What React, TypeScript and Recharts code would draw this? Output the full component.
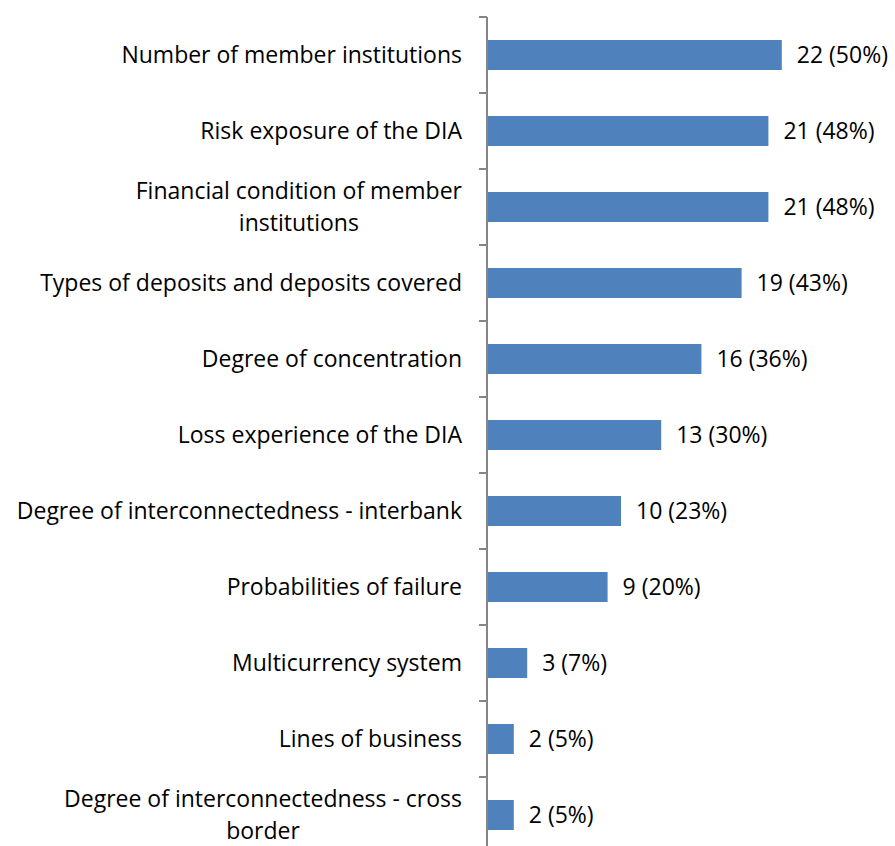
import React from 'react';
import { BarChart, Bar, XAxis, YAxis, LabelList } from 'recharts';

const categories = [
  'Number of member institutions',
  'Risk exposure of the DIA',
  'Financial condition of member|institutions',
  'Types of deposits and deposits covered',
  'Degree of concentration',
  'Loss experience of the DIA',
  'Degree of interconnectedness - interbank',
  'Probabilities of failure',
  'Multicurrency system',
  'Lines of business',
  'Degree of interconnectedness - cross|border',
];
const counts = [22, 21, 21, 19, 16, 13, 10, 9, 3, 2, 2];
const shares = ['50%', '48%', '48%', '43%', '36%', '30%', '23%', '20%', '7%', '5%', '5%'];

const data = categories.map((name, i) => ({ name, value: counts[i], label: `${counts[i]} (${shares[i]})` }));

const W = 895;
const H = 870;
const TOP = 17;
const BOTTOM = 17;
const AXIS_X = 487;
const BAND = (H - TOP - BOTTOM) / categories.length;
const FONT = '"Open Sans", sans-serif';
const FS = 23;

let ctx: CanvasRenderingContext2D | null = null;
function measure(s: string) {
  if (!ctx) ctx = document.createElement('canvas').getContext('2d');
  if (!ctx) return s.length * 11;
  ctx.font = `${FS}px ${FONT}`;
  return ctx.measureText(s).width;
}

function CategoryTick(props: any) {
  const { y, payload } = props;
  const lines = String(payload.value).split('|');
  const right = AXIS_X - 25;
  return (
    <g>
      <line x1={AXIS_X - 8} x2={AXIS_X} y1={y - BAND / 2} y2={y - BAND / 2} stroke="#868686" strokeWidth={2} />
      {lines.length === 1 ? (
        <text x={right} y={y} dy="0.35em" textAnchor="end" fontSize={FS} fill="#000" fontFamily={FONT}>
          {lines[0]}
        </text>
      ) : (
        lines.map((l, i) => {
          const cx = right - measure(lines[0]) / 2;
          return (
            <text key={i} x={cx} y={y + (i === 0 ? -16 : 16)} dy="0.35em" textAnchor="middle" fontSize={FS} fill="#000" fontFamily={FONT}>
              {l}
            </text>
          );
        })
      )}
    </g>
  );
}

export default function App() {
  return (
    <div style={{ position: 'absolute', left: 0, top: 0, background: '#fff' }}>
      <BarChart width={W} height={H} data={data} layout="vertical" margin={{ top: TOP, right: 6, bottom: BOTTOM, left: 0 }} barCategoryGap={0}>
        <XAxis type="number" domain={[0, 30]} hide />
        <YAxis
          type="category"
          dataKey="name"
          width={AXIS_X}
          axisLine={{ stroke: '#868686', strokeWidth: 2 }}
          tickLine={false}
          tick={<CategoryTick />}
          interval={0}
        />
        <Bar dataKey="value" fill="#4F81BD" barSize={30} isAnimationActive={false}>
          <LabelList dataKey="label" position="right" offset={15} fill="#000" fontSize={FS} fontFamily={FONT} />
        </Bar>
      </BarChart>
    </div>
  );
}
